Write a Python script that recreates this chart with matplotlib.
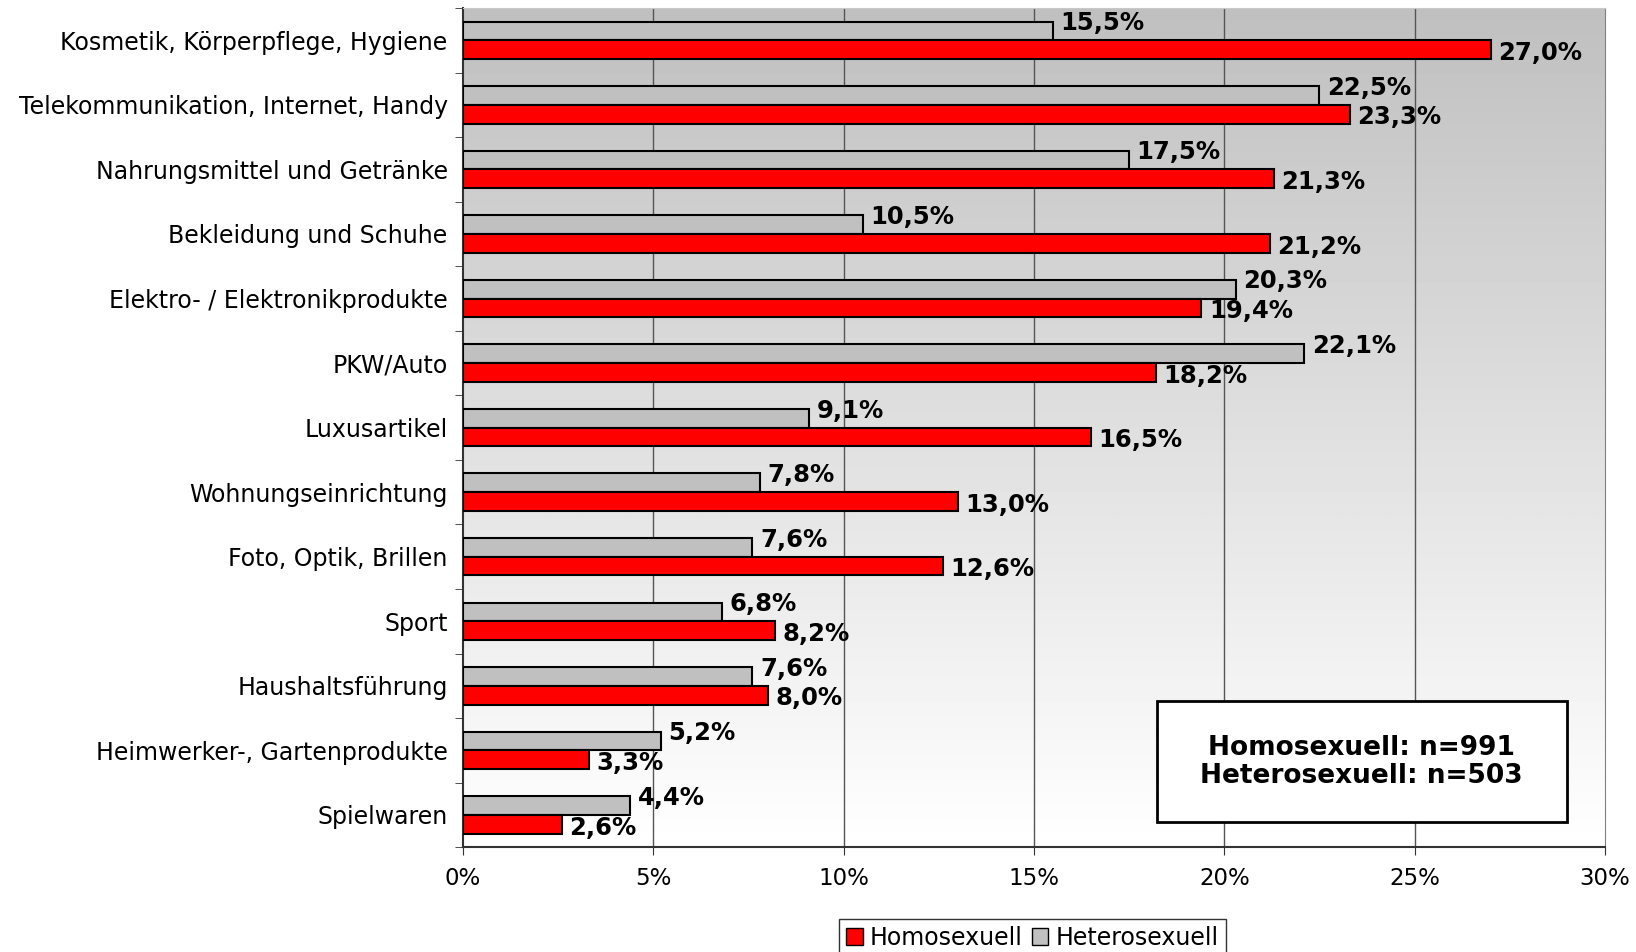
import numpy as np
import matplotlib
matplotlib.use("Agg")
import matplotlib.pyplot as plt
from matplotlib.patches import Patch, Rectangle

# Daten, von oben nach unten
kategorien = ["Kosmetik, Körperpflege, Hygiene",
              "Telekommunikation, Internet, Handy",
              "Nahrungsmittel und Getränke",
              "Bekleidung und Schuhe",
              "Elektro- / Elektronikprodukte",
              "PKW/Auto",
              "Luxusartikel",
              "Wohnungseinrichtung",
              "Foto, Optik, Brillen",
              "Sport",
              "Haushaltsführung",
              "Heimwerker-, Gartenprodukte",
              "Spielwaren"]
homo = [27.0, 23.3, 21.3, 21.2, 19.4, 18.2, 16.5, 13.0, 12.6, 8.2, 8.0, 3.3, 2.6]
hetero = [15.5, 22.5, 17.5, 10.5, 20.3, 22.1, 9.1, 7.8, 7.6, 6.8, 7.6, 5.2, 4.4]
xticks = [0, 5, 10, 15, 20, 25, 30]

plt.rcParams['font.family'] = ['DejaVu Sans']

fig = plt.figure(figsize=(16.36, 9.52), dpi=100)
ax = fig.add_axes([0.283, 0.110, 0.698, 0.8816])

n = len(kategorien)
y = np.arange(n)
h = 0.29

# hintergrund: oben grau, unten weiss
grad = np.linspace(0.75, 1.0, 256).reshape(-1, 1)
ax.imshow(grad, cmap="gray", vmin=0, vmax=1, aspect="auto",
          extent=[0, 30, n - 0.5, -0.5], zorder=0, interpolation="bilinear")

for xv in xticks[1:-1]:
    ax.axvline(xv, color="#555555", lw=1.0, zorder=1)

ax.barh(y - h / 2, hetero, height=h, color="#C0C0C0", edgecolor="black", lw=1.5, zorder=3)
ax.barh(y + h / 2, homo, height=h, color="#FF0000", edgecolor="black", lw=1.5, zorder=3)

def fmt(v):
    return ("%.1f%%" % v).replace(".", ",")

for i in range(n):
    ax.text(hetero[i] + 0.2, i - h / 2 - 0.12, fmt(hetero[i]), fontsize=17.5,
            fontweight="bold", va="center", ha="left", zorder=4)
    ax.text(homo[i] + 0.2, i + h / 2 + 0.05, fmt(homo[i]), fontsize=17.5,
            fontweight="bold", va="center", ha="left", zorder=4)

ax.set_xlim(0, 30)
ax.set_ylim(n - 0.5, -0.5)
ax.set_xticks(xticks)
ax.set_xticklabels(["%d%%" % v for v in xticks], fontsize=16.5)
ax.set_yticks(y)
ax.set_yticklabels(kategorien, fontsize=17)
ax.set_yticks(np.arange(n + 1) - 0.5, minor=True)
ax.tick_params(axis="y", which="major", length=0, pad=11)
ax.tick_params(axis="y", which="minor", length=6, color="#333333", direction="out")
ax.tick_params(axis="x", length=6, color="#333333", direction="out", pad=8)

ax.spines["left"].set_color("#333333")
ax.spines["bottom"].set_color("#333333")
ax.spines["left"].set_linewidth(1.5)
ax.spines["bottom"].set_linewidth(1.5)
ax.spines["right"].set_color("#808080")
ax.spines["top"].set_color("#C8C8C8")

# stichprobenbox
ax.add_patch(Rectangle((0.608, 0.030), 0.359, 0.144, transform=ax.transAxes,
                       facecolor="white", edgecolor="black", lw=2, zorder=5))
ax.text(0.787, 0.102, "Homosexuell: n=991\nHeterosexuell: n=503", transform=ax.transAxes,
        fontsize=19, fontweight="bold", ha="center", va="center", linespacing=1.1,
        zorder=6)

handles = [Patch(facecolor="#FF0000", edgecolor="black", label="Homosexuell"),
           Patch(facecolor="#C0C0C0", edgecolor="black", label="Heterosexuell")]
leg = fig.legend(handles=handles, loc="upper center", bbox_to_anchor=(0.631, 0.035),
                 ncol=2, fontsize=17, frameon=True, fancybox=False, handlelength=0.7,
                 handleheight=0.7, handletextpad=0.3, columnspacing=0.4,
                 borderpad=0.3, borderaxespad=0)
leg.get_frame().set_edgecolor("black")
leg.get_frame().set_linewidth(1.0)

fig.savefig("out.png", dpi=100)
